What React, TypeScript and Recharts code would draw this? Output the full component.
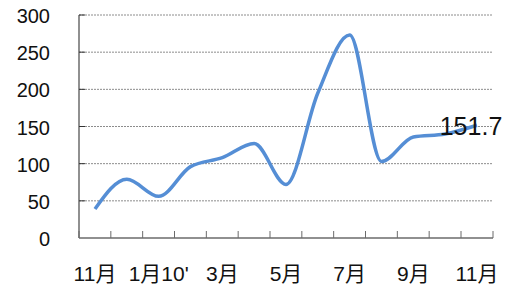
import { LineChart, Line, XAxis, YAxis, CartesianGrid } from "recharts";

const months = ["11月", "12月", "1月10'", "2月", "3月", "4月", "5月", "6月", "7月", "8月", "9月", "10月", "11月"];
const values = [39, 79, 56, 96, 108, 127, 72, 195, 273, 103, 136, 140, 151.7];
const yTicks = [0, 50, 100, 150, 200, 250, 300];

const data = months.map((month, i) => ({ month, value: values[i] }));

const FONT = "'Liberation Sans', Arial, 'Noto Sans CJK SC', sans-serif";
const AXIS = "#6b6b6b";
// half a category step: first/last point sit half a step inside the plot
const PAD = 16;

function XTick(props: any) {
  const { x, y, payload, index } = props;
  const last = index === months.length - 1;
  return (
    <g>
      <line x1={x - PAD} y1={y} x2={x - PAD} y2={y - 7} stroke={AXIS} />
      {last && <line x1={x + PAD} y1={y} x2={x + PAD} y2={y - 7} stroke={AXIS} />}
      {index % 2 === 0 && (
        <text x={x} y={y + 43} textAnchor="middle" fontSize={21} fontFamily={FONT} fill="#111">
          {payload.value}
        </text>
      )}
    </g>
  );
}

function YTick(props: any) {
  const { x, y, payload } = props;
  return (
    <g>
      {payload.value > 0 && <line x1={x} y1={y} x2={x + 6} y2={y} stroke="#333" />}
      <text x={x - 29} y={y + 8} textAnchor="end" fontSize={20} fontFamily={FONT} fill="#111">
        {payload.value}
      </text>
    </g>
  );
}

function EndLabel(props: any) {
  const { x, y, index, value } = props;
  if (index !== values.length - 1) return null;
  return (
    <text x={x - 6} y={y + 10} textAnchor="middle" fontSize={25} fontFamily={FONT} fill="#111">
      {value}
    </text>
  );
}

export default function App() {
  return (
    <div style={{ position: "absolute", left: 0, top: 0 }}>
      <LineChart width={511} height={287} data={data} margin={{ top: 15, right: 18, bottom: 0, left: 0 }}>
        <CartesianGrid vertical={false} horizontalValues={[50, 100, 150, 200, 250, 300]} stroke="#8c8c8c" strokeDasharray="2 1" />
        <XAxis
          dataKey="month"
          padding={{ left: PAD, right: PAD }}
          interval={0}
          height={49}
          tickSize={0}
          tickMargin={0}
          tickLine={false}
          axisLine={{ stroke: AXIS, strokeWidth: 1.5 }}
          tick={<XTick />}
        />
        <YAxis
          domain={[0, 300]}
          ticks={yTicks}
          width={79}
          tickSize={0}
          tickMargin={0}
          tickLine={false}
          axisLine={{ stroke: AXIS, strokeWidth: 1.5 }}
          tick={<YTick />}
        />
        <Line
          type="monotone"
          dataKey="value"
          stroke="#558ed5"
          strokeWidth={3.5}
          dot={false}
          label={<EndLabel />}
          isAnimationActive={false}
        />
      </LineChart>
    </div>
  );
}
